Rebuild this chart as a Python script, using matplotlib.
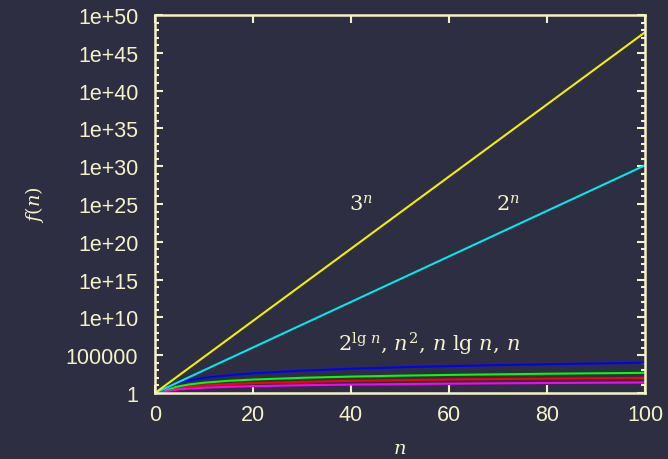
import matplotlib
matplotlib.use("Agg")
import matplotlib.pyplot as plt
from matplotlib.ticker import FixedLocator, FixedFormatter, LogLocator, NullFormatter

# values
n_exp = [0, 100]
three_n = [1, 5.2e47]
two_n = [1, 1.3e30]

n_poly = [1, 1.5, 2, 3, 4, 5, 7, 10, 15, 20, 30, 40, 50, 60, 70, 80, 90, 100]
n_sq = [1, 2.25, 4, 9, 16, 25, 49, 100, 225, 400, 900, 1600, 2500, 3600, 4900, 6400, 8100, 10000]
n_lgn = [1, 1.6, 2.2, 3.3, 5.5, 8, 13.6, 23, 41, 60, 102, 148, 196, 246, 297, 351, 405, 460]
n_lin = [1, 1.5, 2, 3, 4, 5, 7, 10, 15, 20, 30, 40, 50, 60, 70, 80, 90, 100]
two_lgn = [1, 1.3, 1.6, 2.1, 2.6, 3.05, 3.85, 5, 6.5, 8, 10.6, 12.9, 15, 17.1, 19, 20.9, 22.6, 24.4]

y_ticks = [1, 1e5, 1e10, 1e15, 1e20, 1e25, 1e30, 1e35, 1e40, 1e45, 1e50]
y_labels = ["1", "100000", "1e+10", "1e+15", "1e+20", "1e+25", "1e+30",
            "1e+35", "1e+40", "1e+45", "1e+50"]
x_ticks = [0, 20, 40, 60, 80, 100]

bg = "#2e2e42"
fg = "#f5f2c8"

plt.rcParams["mathtext.fontset"] = "custom"
plt.rcParams["mathtext.it"] = "DejaVu Serif:italic"
plt.rcParams["mathtext.rm"] = "DejaVu Serif"

fig = plt.figure(figsize=(6.68, 4.6), dpi=100, facecolor=bg)
ax = fig.add_axes([155 / 668, 1 - 394 / 460, 490 / 668, 378 / 460])
ax.set_facecolor(bg)

lw = 1.5
ax.plot(n_poly, n_lin, color="#ff0000", lw=lw)
ax.plot(n_poly, n_lgn, color="#00ff00", lw=lw)
ax.plot(n_poly, n_sq, color="#0000ff", lw=lw)
ax.plot(n_poly, two_lgn, color="#ff00ff", lw=lw)
ax.plot(n_exp, two_n, color="#00e8e8", lw=lw)
ax.plot(n_exp, three_n, color="#f0f000", lw=lw)

ax.set_yscale("log")
ax.set_xlim(0, 100)
ax.set_ylim(1, 1e50)
ax.yaxis.set_major_locator(FixedLocator(y_ticks))
ax.yaxis.set_major_formatter(FixedFormatter(y_labels))
ax.yaxis.set_minor_locator(LogLocator(base=10, subs=[1.0], numticks=60))
ax.yaxis.set_minor_formatter(NullFormatter())
ax.set_xticks(x_ticks)

for s in ax.spines.values():
    s.set_color(fg)
    s.set_linewidth(1.8)
ax.tick_params(which="both", direction="in", colors=fg, top=True, right=True,
               labelsize=15.5, width=1.5)
ax.tick_params(which="major", length=6)
ax.tick_params(axis="y", which="major", pad=12)
ax.tick_params(axis="x", which="major", pad=8)
ax.tick_params(which="minor", length=3)
for lab in ax.get_xticklabels() + ax.get_yticklabels():
    lab.set_fontfamily("Liberation Sans")
    lab.set_color(fg)

ax.set_xlabel("$n$", color=fg, fontsize=14, labelpad=9)
ax.set_ylabel("$f(n)$", color=fg, fontsize=14, labelpad=14)

ax.text(42, 1e25, "$3^n$", color=fg, fontsize=15, ha="center", va="center")
ax.text(72, 1e25, "$2^n$", color=fg, fontsize=15, ha="center", va="center")
ax.text(56, 4e6, r"$2^{\mathrm{lg}\ n},\,n^2,\,n\ \mathrm{lg}\ n,\,n$", color=fg,
        fontsize=15, ha="center", va="center")

fig.savefig("out.png", dpi=100, facecolor=bg)
